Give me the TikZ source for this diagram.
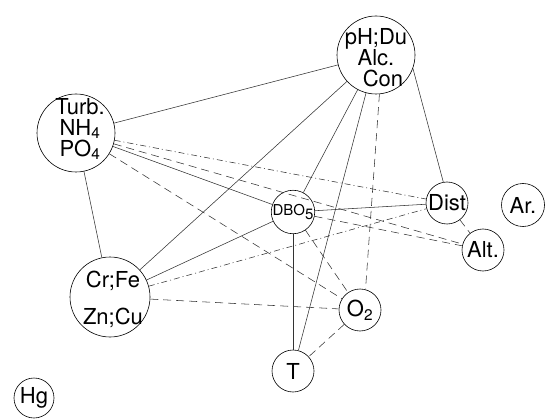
\documentclass[tikz,border=0pt]{standalone}
\usepackage{fontspec}
\setmainfont{TeX Gyre Heros}

\begin{document}
\begin{tikzpicture}[x=1pt, y=-1pt,
    var/.style={circle, draw, line width=0.6pt, inner sep=0pt,
      font=\fontsize{22}{21}\selectfont},
    txt/.style={align=center, inner sep=0pt, font=\fontsize{22}{21}\selectfont},
    link/.style={line width=0.55pt, draw=black!80},
    neglink/.style={link, dash pattern=on 8pt off 5pt},
    weaklink/.style={link, dash pattern=on 6pt off 3pt on 1pt off 3pt}]
  \useasboundingbox (0,0) rectangle (545,419);

  % variables
  \node[var, minimum size=78pt,
    label={[txt, yshift=-3pt]center:pH;Du\\Alc.\\\hspace{14pt}Con}] (ph) at (376,55) {};
  \node[var, minimum size=78pt,
    label={[txt, xshift=4pt, yshift=4pt]center:Turb.\\NH\textsubscript{4}\\PO\textsubscript{4}}] (turb) at (76,133) {};
  \node[var, minimum size=80pt,
    label={[txt, xshift=3pt, yshift=-2pt]center:Cr;Fe\\[16pt]Zn;Cu}] (crfe) at (110,297) {};
  \node[var, minimum size=43pt, font=\fontsize{15}{15}\selectfont] (dbo) at (293,212) {DBO\raisebox{-4pt}{5}};
  \node[var, minimum size=42pt] (dist) at (447,203) {Dist};
  \node[var, minimum size=43pt] (ar)   at (523,205) {Ar.};
  \node[var, minimum size=42pt] (alt)  at (483,250) {Alt.};
  \node[var, minimum size=42pt] (o2)   at (360,310) {O\textsubscript{2}};
  \node[var, minimum size=42pt] (t)    at (293,371) {T};
  \node[var, minimum size=40pt] (hg)   at (34,398) {Hg};

  % solid links
  \draw[link] (ph) -- (turb);
  \draw[link] (ph) -- (crfe);
  \draw[link] (ph) -- (dbo);
  \draw[link] (ph) -- (t);
  \draw[link] (ph.-20) -- (dist.100);
  \draw[link] (turb) -- (dbo);
  \draw[link] (turb) -- (crfe);
  \draw[link] (crfe) -- (dbo);
  \draw[link] (dbo) -- (dist);
  \draw[link] (dbo) -- (t);

  % dashed links
  \draw[neglink] (ph.-85) -- (o2.75);
  \draw[neglink] (turb) -- (alt);
  \draw[neglink] (turb) -- (o2);
  \draw[neglink] (crfe) -- (o2);
  \draw[neglink] (dbo) -- (o2);
  \draw[neglink] (dbo) -- (alt);
  \draw[neglink] (dist) -- (alt);
  \draw[neglink] (o2) -- (t);

  % dash-dot links
  \draw[weaklink] (turb) -- (dist);
  \draw[weaklink] (crfe) -- (dist);
\end{tikzpicture}
\end{document}
